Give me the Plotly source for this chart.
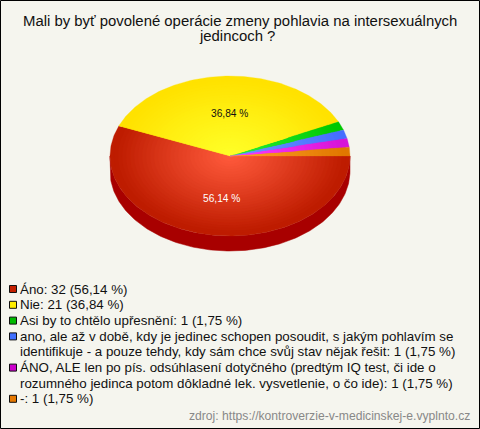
import math
import plotly.graph_objects as go

title_lines = ["Mali by byť povolené operácie zmeny pohlavia na intersexuálnych", "jedincoch ?"]
counts = [32, 21, 1, 1, 1, 1]
percent_text = ["56,14 %", "36,84 %"]
legend_rows = [
    ["Áno: 32 (56,14 %)"],
    ["Nie: 21 (36,84 %)"],
    ["Asi by to chtělo upřesnění: 1 (1,75 %)"],
    ["ano, ale až v době, kdy je jedinec schopen posoudit, s jakým pohlavím se",
     "identifikuje - a pouze tehdy, kdy sám chce svůj stav nějak řešit: 1 (1,75 %)"],
    ["ÁNO, ALE len po pís. odsúhlasení dotyčného (predtým IQ test, či ide o",
     "rozumného jedinca potom dôkladné lek. vysvetlenie, o čo ide): 1 (1,75 %)"],
    ["-: 1 (1,75 %)"],
]
source = "zdroj: https://kontroverzie-v-medicinskej-e.vyplnto.cz"
legend_colors = ["#c42000", "#ffee00", "#00bb00", "#3f6fff", "#cc00cc", "#e67800"]
inner_colors = [(255, 90, 60), (255, 255, 40), (40, 240, 60), (110, 150, 255), (255, 60, 255), (255, 160, 40)]
outer_colors = [(190, 28, 0), (255, 226, 0), (0, 200, 0), (70, 110, 255), (215, 20, 215), (225, 120, 0)]
wall_color = "#a80000"
bg = "#f5f5ee"

CX, CY, RX, RY, DEPTH = 230, 156, 120, 80, 15
RINGS = 30
total = sum(counts)


def arc(a0, a1, r=1.0, dy=0, n=None):
    n = n or max(2, int(abs(a1 - a0) * 60) + 2)
    pts = [a0 + (a1 - a0) * i / (n - 1) for i in range(n)]
    return [CX + r * RX * math.cos(t) for t in pts], [CY + dy + r * RY * math.sin(t) for t in pts]


fig = go.Figure()

xa, ya = arc(0, math.pi)
xb, yb = arc(math.pi, 0, dy=DEPTH)
fig.add_trace(go.Scatter(x=xa + xb + [xa[0]], y=ya + yb + [ya[0]], mode="lines", fill="toself",
                         fillcolor=wall_color, line=dict(color=wall_color, width=0.5), hoverinfo="skip"))

for k in range(RINGS, 0, -1):
    r = k / RINGS
    start = 0.0
    for v, c0, c1 in zip(counts, inner_colors, outer_colors):
        sweep = 2 * math.pi * v / total
        xs, ys = arc(start, start + sweep, r=r)
        col = "rgb(%d,%d,%d)" % tuple(round(a + (b - a) * min(1, r ** 1.1 * 1.05)) for a, b in zip(c0, c1))
        fig.add_trace(go.Scatter(x=[CX] + xs + [CX], y=[CY] + ys + [CY], mode="lines", fill="toself",
                                 fillcolor=col, line=dict(color=col, width=0.3), hoverinfo="skip"))
        start += sweep

FONT = "Liberation Sans, Arial, sans-serif"
ann = []


def text(x, y, s, size, color="#111111", anchor="left"):
    ann.append(dict(x=x, y=y, text=s, xref="x", yref="y", showarrow=False, xanchor=anchor, yanchor="middle",
                    borderpad=0, borderwidth=0, font=dict(family=FONT, size=size, color=color)))


text(240, 20.5, title_lines[0], 14.9, anchor="center")
text(237, 35.5, title_lines[1], 14.9, anchor="center")
text(229, 113, percent_text[1], 10.2, "#111111", "center")
text(221, 198, percent_text[0], 10.2, "#ffffff", "center")

shapes = [dict(type="rect", x0=0.5, y0=0.5, x1=479.5, y1=428.5, xref="x", yref="y",
               line=dict(color="#000000", width=1), layer="above")]
y = 289
for row, col in zip(legend_rows, legend_colors):
    shapes.append(dict(type="rect", x0=9.5, x1=16.5, y0=y - 3.5, y1=y + 3.5, xref="x", yref="y",
                       fillcolor=col, line=dict(color="#111111", width=1), layer="above"))
    for line in row:
        text(20, y, line, 13.33)
        y += 15.4
    y += 0.4
text(470, 416, source, 12.15, "#888888", "right")

fig.update_layout(
    width=480, height=429, margin=dict(l=0, r=0, t=0, b=0), showlegend=False,
    paper_bgcolor=bg, plot_bgcolor=bg, annotations=ann, shapes=shapes,
    xaxis=dict(range=[0, 480], visible=False, fixedrange=True),
    yaxis=dict(range=[429, 0], visible=False, fixedrange=True),
)
fig.write_html("out.html", post_script="document.body.style.margin='0';document.documentElement.style.overflow='hidden';",
               config={"displayModeBar": False})
